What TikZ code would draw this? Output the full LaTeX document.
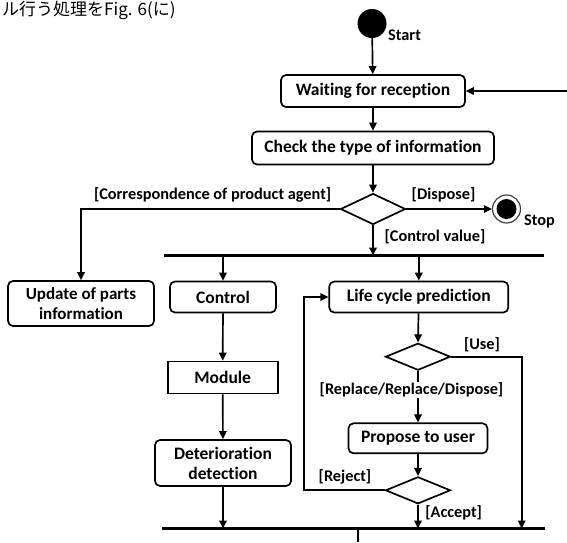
\documentclass[tikz,border=0pt]{standalone}
\usepackage{fontspec}
\setmainfont{Carlito}[Ligatures={NoCommon}]
\newfontfamily\jpfont{Noto Sans CJK JP}
\usetikzlibrary{arrows.meta,shapes.geometric,calc}
\tikzset{
  act/.style={draw, line width=1.7pt, rounded corners=5pt, inner sep=0pt, align=center, font=\fontsize{17.5}{20}\selectfont\bfseries},
  sq/.style={act, rounded corners=0pt},
  dec/.style={draw, diamond, line width=1.7pt, inner sep=0pt, minimum width=65pt, minimum height=28pt},
  lbl/.style={inner sep=0pt, font=\fontsize{16.3}{18}\selectfont\bfseries},
  bar/.style={line width=3pt},
  conn/.style={line width=1.7pt},
  arr/.style={conn, -{Triangle[length=8pt,width=7.5pt]}},
}
\begin{document}
\begin{tikzpicture}[x=1pt,y=-1pt]
\useasboundingbox (0,0) rectangle (567,542);
% top text
\node[anchor=north west, inner sep=0pt, font=\fontsize{17}{20}\selectfont\jpfont] (jp) at (2,1) {ル行う処理をFig. 6(に)};
% start
\node[circle, fill=black, minimum size=29pt, inner sep=0pt] (start) at (372,23.5) {};
\node[lbl, anchor=west] (startl) at (388,35) {Start};
% activities
\node[act, minimum width=184pt, minimum height=32pt] (wait) at (373,91) {Waiting for reception};
\node[act, minimum width=242pt, minimum height=33pt] (check) at (373,148) {Check the type of information};
\node[dec, minimum height=31pt] (d1) at (373,209) {};
\node[circle, draw=black!75, line width=1.2pt, minimum size=28pt, inner sep=0pt] (stop) at (506.5,209) {};
\node[circle, fill=black, minimum size=20pt, inner sep=0pt] (stopin) at (stop.center) {};
\node[lbl, anchor=west] (stopl) at (524,221) {Stop};
\coordinate (rin) at (567,91);
% bars
\coordinate (b1l) at (163.5,255.5);
\coordinate (b1r) at (543.5,255.5);
\coordinate (b2l) at (162,528.5);
\coordinate (b2r) at (545,528.5);
\coordinate (bot) at (358,542);
% second level
\node[act, minimum width=146pt, minimum height=45pt, font=\fontsize{17}{20}\selectfont\bfseries] (upd) at (81,303.5) {Update of parts\\information};
\node[act, minimum width=106pt, minimum height=31pt] (ctrl) at (223,297) {Control};
\node[act, minimum width=179pt, minimum height=31pt] (life) at (418.8,297) {Life cycle prediction};
\node[sq, minimum width=110pt, minimum height=32pt] (mod) at (222.7,377.5) {Module};
\node[act, minimum width=136pt, minimum height=46pt] (det) at (223,463) {Deterioration\\detection};
\node[dec, minimum height=27pt] (d2) at (418,356.7) {};
\node[act, minimum width=139pt, minimum height=30pt] (prop) at (418,438.3) {Propose to user};
\node[dec, minimum height=27pt] (d3) at (418,490.3) {};
\coordinate (usecol) at (521.7,356.7);
\coordinate (loopx) at (304,490.3);
% bars drawn
\draw[bar] (b1l) -- (b1r);
\draw[bar] (b2l) -- (b2r);
% connectors
\draw[arr] (start) -- (wait);
\draw[arr] (rin) -- (wait.east);
\draw[arr] (wait) -- (check);
\draw[arr] (check) -- (d1.north);
\draw[arr] (d1.west) -| (upd.north);
\draw[arr] (d1.east) -- (stop.west);
\draw[arr] (d1.south) -- (d1.south |- b1l);
\draw[arr] (ctrl.north |- b1l) -- (ctrl.north);
\draw[arr] (life.north |- b1l) -- (life.north);
\draw[arr] (ctrl) -- (mod);
\draw[arr] (mod) -- (det);
\draw[arr] (det.south) -- (det.south |- b2l);
\draw[arr] (life) -- (d2.north);
\draw[arr] (d2.east) -- (usecol) -- (usecol |- b2l);
\draw[arr] (d2.south) -- (prop.north);
\draw[arr] (prop) -- (d3.north);
\draw[arr] (d3.west) -- (loopx) |- (life.west);
\draw[arr] (d3.south) -- (d3.south |- b2l);
\draw[conn] (bot |- b2l) -- (bot);
% labels
\node[lbl] (lcorr) at (212.6,195.4) {[Correspondence of product agent]};
\node[lbl] (ldisp) at (443.5,195) {[Dispose]};
\node[lbl] (lctrl) at (435,237) {[Control value]};
\node[lbl] (luse) at (482,345) {[Use]};
\node[lbl, fill=white, inner sep=1pt] (lrep) at (411.5,390) {[Replace/Replace/Dispose]};
\node[lbl] (lrej) at (345,477) {[Reject]};
\node[lbl] (lacc) at (453.7,513) {[Accept]};
\end{tikzpicture}
\end{document}
